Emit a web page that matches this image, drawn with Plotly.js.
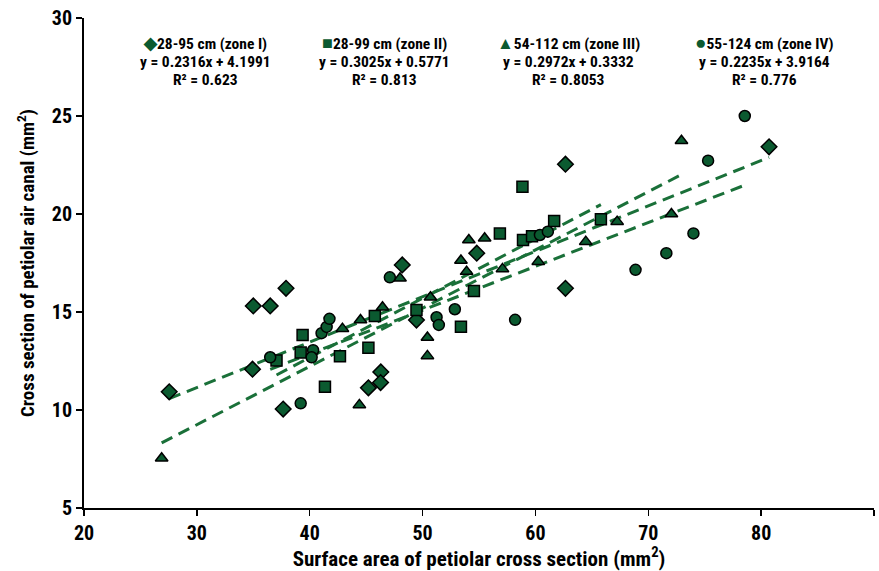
<!DOCTYPE html>
<html>
<head>
<meta charset="utf-8">
<script src="https://cdn.plot.ly/plotly-3.0.1.min.js"></script>
<style>html,body{margin:0;padding:0;background:#fff}#chart{width:879px;height:571px}</style>
</head>
<body>
<div id="chart"></div>
<script>
// Zone I (diamonds) 28-95 cm
const zone1X = [27.55, 35.0, 36.5, 37.9, 34.93, 37.65, 46.3, 46.28, 45.2, 48.2, 49.46, 54.8, 62.66, 62.66, 80.7];
const zone1Y = [10.93, 15.31, 15.31, 16.21, 12.08, 10.05, 11.94, 11.4, 11.13, 17.4, 14.59, 18.0, 22.54, 16.21, 23.43];
// Zone II (squares) 28-99 cm
const zone2X = [37.06, 39.37, 39.2, 41.35, 42.68, 45.2, 45.77, 49.46, 53.4, 54.55, 56.85, 58.85, 58.9, 59.7, 61.66, 65.8];
const zone2Y = [12.52, 13.83, 12.93, 11.19, 12.74, 13.18, 14.8, 15.1, 14.25, 16.07, 19.0, 21.39, 18.67, 18.86, 19.64, 19.73];
// Zone III (triangles) 54-112 cm
const zone3X = [26.88, 42.9, 44.5, 44.4, 46.45, 48.0, 50.43, 50.43, 50.7, 53.4, 53.9, 54.1, 55.5, 57.08, 60.25, 64.46, 67.24, 72.05, 72.94];
const zone3Y = [7.54, 14.15, 14.59, 10.26, 15.24, 16.72, 13.7, 12.76, 15.75, 17.63, 17.06, 18.67, 18.76, 17.2, 17.57, 18.59, 19.61, 20.0, 23.74];
// Zone IV (circles) 55-124 cm
const zone4X = [36.5, 39.2, 40.3, 40.17, 41.05, 41.5, 41.75, 47.1, 51.24, 51.44, 52.86, 58.2, 60.4, 61.1, 68.87, 71.6, 74.0, 75.3, 78.55];
const zone4Y = [12.69, 10.34, 13.05, 12.69, 13.92, 14.24, 14.65, 16.77, 14.73, 14.34, 15.14, 14.6, 18.93, 19.1, 17.15, 18.0, 19.01, 22.72, 25.0];

const zoneNames = ["28-95 cm (zone I)", "28-99 cm (zone II)", "54-112 cm (zone III)", "55-124 cm (zone IV)"];
const slopes = [0.2316, 0.3025, 0.2972, 0.2235];
const intercepts = [4.1991, 0.5771, 0.3332, 3.9164];
const r2Labels = ["0.623", "0.813", "0.8053", "0.776"];
const eqLabels = ["y = 0.2316x + 4.1991", "y = 0.3025x + 0.5771", "y = 0.2972x + 0.3332", "y = 0.2235x + 3.9164"];

const xTickVals = [20, 30, 40, 50, 60, 70, 80, 90];
const yTickVals = [5, 10, 15, 20, 25, 30];

const FONT = '"Liberation Sans Narrow", "Arial Narrow", "Roboto Condensed", sans-serif';
const FILL = '#0b5a30';
const LINEC = '#1a7039';
const symbols = ['diamond', 'square', 'triangle-up', 'circle'];
const sizes = [12, 11, 11, 11];
const glyphs = ['◆', '■', '▲', '●'];
const glyphSizes = [17, 18, 17, 19];

const xs = [zone1X, zone2X, zone3X, zone4X];
const ys = [zone1Y, zone2Y, zone3Y, zone4Y];

const traces = [];
for (let i = 0; i < 4; i++) {
  const xmin = Math.min(...xs[i]), xmax = Math.max(...xs[i]);
  traces.push({
    x: [xmin, xmax],
    y: [slopes[i] * xmin + intercepts[i], slopes[i] * xmax + intercepts[i]],
    mode: 'lines', type: 'scatter', showlegend: false, hoverinfo: 'skip',
    line: {color: LINEC, width: 3, dash: '12px,7px'}
  });
}
for (let i = 0; i < 4; i++) {
  traces.push({
    x: xs[i], y: ys[i], mode: 'markers', type: 'scatter', name: zoneNames[i], showlegend: false,
    marker: {symbol: symbols[i], size: sizes[i], color: FILL, line: {color: '#000', width: 1.5}}
  });
}

const colCenters = [205, 384, 568, 764];
const rowsPx = [43, 62, 80];
const annotations = [];
function px2paperX(px) { return (px - 84) / 790; }
function px2paperY(py) { return (508 - py) / 490; }
for (let i = 0; i < 4; i++) {
  const f = {family: FONT, size: 15.5, color: '#000'};
  const cx = px2paperX(colCenters[i]);
  annotations.push({xref: 'paper', yref: 'paper', x: cx, y: px2paperY(rowsPx[0]), yanchor: 'middle', xanchor: 'center', showarrow: false,
    text: '<b><span style="color:' + FILL + ';font-size:' + glyphSizes[i] + 'px">' + glyphs[i] + '</span>' + zoneNames[i] + '</b>', font: f});
  annotations.push({xref: 'paper', yref: 'paper', x: cx, y: px2paperY(rowsPx[1]), yanchor: 'middle', xanchor: 'center', showarrow: false,
    text: '<b>' + eqLabels[i] + '</b>', font: f});
  annotations.push({xref: 'paper', yref: 'paper', x: cx, y: px2paperY(rowsPx[2]), yanchor: 'middle', xanchor: 'center', showarrow: false,
    text: '<b>R² = ' + r2Labels[i] + '</b>', font: f});
}

const layout = {
  width: 879, height: 571,
  margin: {l: 84, r: 5, t: 18, b: 63},
  paper_bgcolor: '#fff', plot_bgcolor: '#fff',
  showlegend: false,
  font: {family: FONT, color: '#000'},
  xaxis: {
    range: [20, 90], tickvals: xTickVals, ticktext: xTickVals.map(v => '<b>' + v + '</b>'),
    showgrid: false, zeroline: false, showline: true, linecolor: '#000', linewidth: 2,
    ticks: 'outside', ticklen: 6, tickwidth: 1.5, tickcolor: '#000',
    tickfont: {family: FONT, size: 20, color: '#000'},
    title: {text: '<b>Surface area of petiolar cross section (mm<sup>2</sup>)</b>', font: {family: FONT, size: 21, color: '#000'}, standoff: 0}
  },
  yaxis: {
    range: [5, 30], tickvals: yTickVals, ticktext: yTickVals.map(v => '<b>' + v + '</b>'),
    showgrid: false, zeroline: false, showline: true, linecolor: '#000', linewidth: 2,
    ticks: 'outside', ticklen: 6, tickwidth: 1.5, tickcolor: '#000',
    tickfont: {family: FONT, size: 20, color: '#000'},
    title: {text: '<b>Cross section of petiolar air canal (mm<sup>2</sup>)</b>', font: {family: FONT, size: 19, color: '#000'}, standoff: 12}
  },
  annotations: annotations
};

Plotly.newPlot('chart', traces, layout, {displayModeBar: false, staticPlot: true});
</script>
</body>
</html>
